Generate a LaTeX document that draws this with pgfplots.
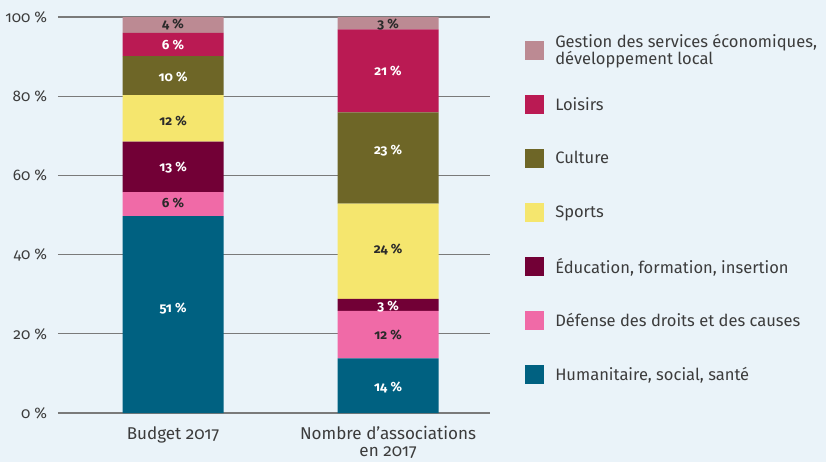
\documentclass[border=0pt]{standalone}
\usepackage{fontspec}
\setmainfont{Fira Sans}[RawFeature=+onum]
\usepackage{pgfplots}
\pgfplotsset{compat=1.18}

\definecolor{bg}{HTML}{EAF3F9}
\definecolor{cgest}{HTML}{BC8A93}
\definecolor{cloisirs}{HTML}{BA1A53}
\definecolor{cculture}{HTML}{6E6627}
\definecolor{csports}{HTML}{F5E66E}
\definecolor{cedu}{HTML}{720036}
\definecolor{cdef}{HTML}{F06AA7}
\definecolor{chum}{HTML}{006181}
\definecolor{gridc}{HTML}{7A7A7A}
\definecolor{txt}{HTML}{3C3C3C}
\definecolor{lbl}{HTML}{2A2A2A}

\pgfplotsset{
  common/.style={
    scale only axis, width=324pt, height=297pt,
    xmin=-0.535, xmax=1.474, ymin=0, ymax=100,
    at={(0,0)}, anchor=south west,
  },
}

\begin{document}
\begin{tikzpicture}
\useasboundingbox[fill=bg] (-43.5pt,-36.75pt) rectangle (576pt,309.75pt);
\begin{axis}[common,
  ybar stacked, bar width=0.47,
  axis line style={draw=none}, major tick length=0pt, tick style={draw=none},
  ymajorgrids, grid style={gridc, line width=1pt},
  ytick={0,20,40,60,80,100},
  yticklabels={0~\%,20~\%,40~\%,60~\%,80~\%,100~\%},
  yticklabel style={font=\fontsize{11.5pt}{13pt}\selectfont, text=txt, inner sep=0pt, xshift=-8pt},
  xtick={0,1},
  xticklabels={Budget 2017,{Nombre d’associations\\en 2017}},
  xticklabel style={align=center, font=\fontsize{12.8pt}{12.8pt}\selectfont, text=txt, inner sep=0pt, yshift=-10pt},
  reverse legend, legend cell align=left,
  legend style={at={(1.081,0.984)}, anchor=north west, draw=none, fill=none,
    inner sep=0pt, column sep=8.25pt,
    nodes={inner sep=0pt, minimum height=40.5pt, text=txt, align=left,
      font=\fontsize{12.4pt}{12.75pt}\selectfont}},
  legend image code/.code={\fill[#1] (0pt,-7.125pt) rectangle (14.25pt,7.125pt);},
]
\addplot[fill=chum, draw=none] coordinates {(0,49.7) (1,13.8)};
\addlegendentry{Humanitaire, social, santé}
\addplot[fill=cdef, draw=none] coordinates {(0,6.1) (1,12.0)};
\addlegendentry{Défense des droits et des causes}
\addplot[fill=cedu, draw=none] coordinates {(0,12.7) (1,3.0)};
\addlegendentry{Éducation, formation, insertion}
\addplot[fill=csports, draw=none] coordinates {(0,11.8) (1,24.1)};
\addlegendentry{Sports}
\addplot[fill=cculture, draw=none] coordinates {(0,9.8) (1,23.0)};
\addlegendentry{Culture}
\addplot[fill=cloisirs, draw=none] coordinates {(0,5.9) (1,21.0)};
\addlegendentry{Loisirs}
\addplot[fill=cgest, draw=none] coordinates {(0,4.0) (1,3.1)};
\addlegendentry{Gestion des services économiques,\\développement local}
\end{axis}

\begin{axis}[common, hide axis]
\addplot[draw=none, mark=none, nodes near coords, point meta=explicit symbolic,
  every node near coord/.append style={anchor=center, inner sep=0pt, text=white,
    font=\bfseries\fontsize{10pt}{11pt}\selectfont}]
  coordinates {(0,26.4) [51~\%] (0,61.9) [13~\%] (0,84.9) [10~\%] (0,92.9) [6~\%]
               (1,6.4) [14~\%] (1,27.0) [3~\%] (1,66.2) [23~\%] (1,86.4) [21~\%]};
\addplot[draw=none, mark=none, nodes near coords, point meta=explicit symbolic,
  every node near coord/.append style={anchor=center, inner sep=0pt, text=lbl,
    font=\bfseries\fontsize{10pt}{11pt}\selectfont}]
  coordinates {(0,53.1) [6~\%] (0,73.8) [12~\%] (0,98.2) [4~\%]
               (1,19.7) [12~\%] (1,41.2) [24~\%] (1,98.2) [3~\%]};
\end{axis}
\end{tikzpicture}
\end{document}
